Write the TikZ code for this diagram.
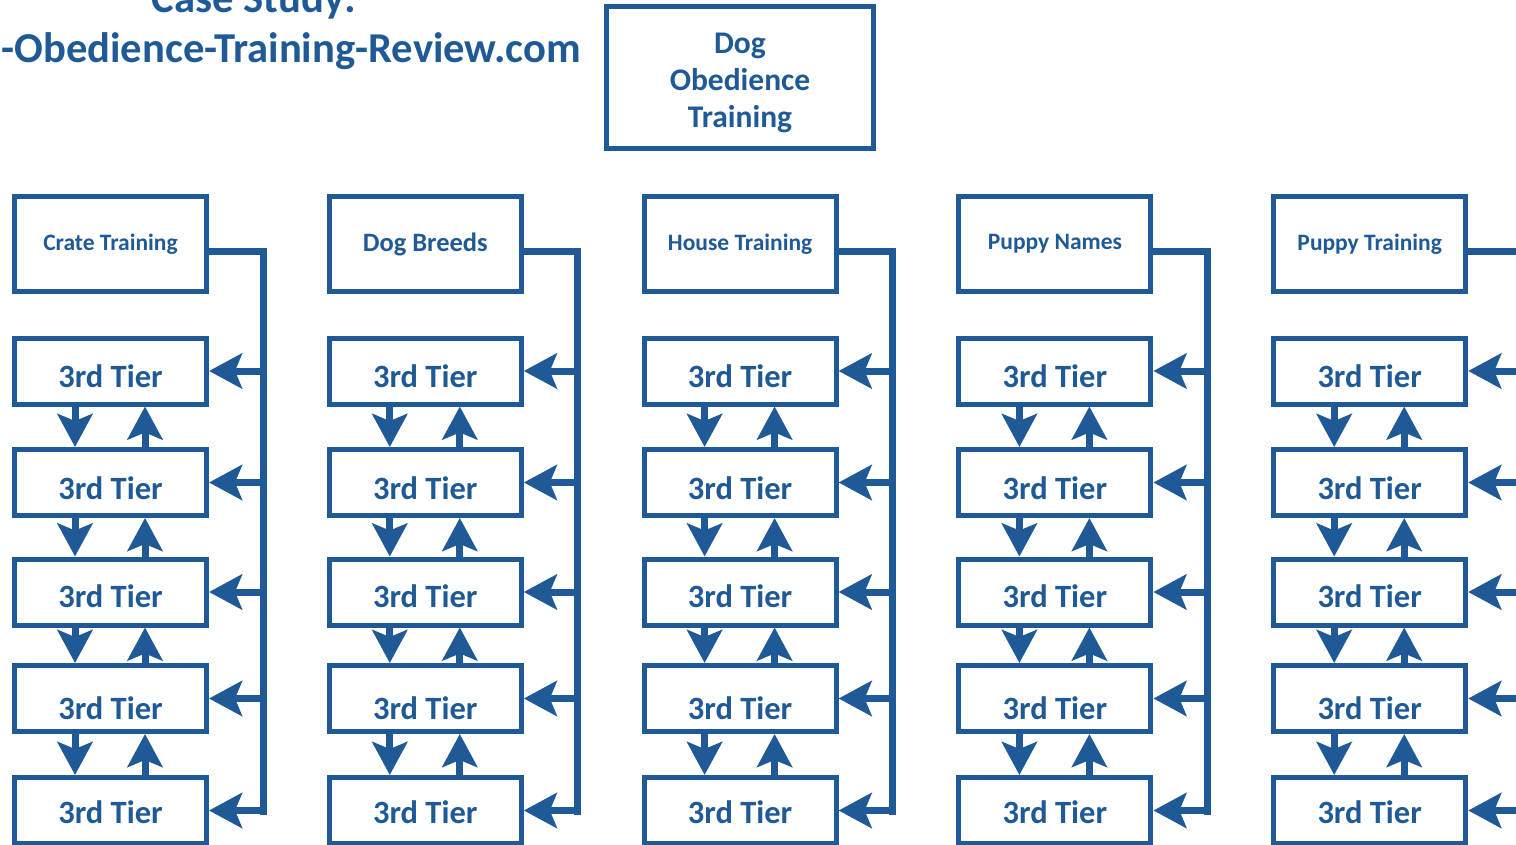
\documentclass[tikz,border=0pt]{standalone}
\usepackage{fontspec}
\setmainfont{Carlito}
\usetikzlibrary{arrows.meta,calc}
\definecolor{navy}{RGB}{31,90,150}
\begin{document}
\begin{tikzpicture}[x=1pt,y=-1pt,
 box/.style={draw=navy,line width=5pt,outer sep=2.5pt,inner sep=0pt,align=center,text=navy,fill=white},
 hdr/.style={box,minimum width=192pt,minimum height=95pt},
 tier/.style={box,minimum width=192pt,minimum height=66pt,text height=#1,text depth=0pt,font=\bfseries\fontsize{32.5}{37}\selectfont},
 conn/.style={draw=navy,line width=7pt},
 arr/.style={conn,-{Stealth[length=33pt,width=35pt,inset=7pt]}},
 ttl/.style={text=navy,inner sep=0pt,font=\bfseries\fontsize{42.6}{50}\selectfont}
]
\clip (0,0) rectangle (1516,845);
\fill[white] (0,0) rectangle (1516,845);
\node[ttl,anchor=base] (t1) at (254,13) {Case Study:};
\node[ttl,anchor=base east] (t2) at (581,63) {-Obedience-Training-Review.com};
\node[box,minimum width=267pt,minimum height=142pt,font=\bfseries\fontsize{31.5}{37}\selectfont] (top) at (740,77.5) {\rule{0pt}{31pt}Dog\\Obedience\\Training};
\foreach \i/\name/\fs in {0/Crate Training/23.5,1/Dog Breeds/26.5,2/House Training/23.5,3/Puppy Names/23.5,4/Puppy Training/23.5} {
  \pgfmathsetmacro\cx{12+314.8*\i+98.5}
  \node[hdr,font=\bfseries\fontsize{\fs}{28}\selectfont] (h\i) at (\cx,244) {\name};
  \coordinate (bb\i) at (\cx+152.5,815);
  \draw[conn] ($(h\i.east)+(0,8)$) -| (bb\i);
  \foreach \j/\ry/\th in {1/371/32.5pt,2/482.5/33.5pt,3/592/30.5pt,4/698.5/41pt,5/810.5/25.5pt} {
    \node[tier=\th] (r\i-\j) at (\cx,\ry) {3rd Tier};
    \draw[arr] (r\i-\j.east -| bb\i) -- (r\i-\j.east);
  }
  \foreach \j/\k in {1/2,2/3,3/4,4/5} {
    \draw[arr] ($(r\i-\j.south)+(-35.5,0)$) -- ($(r\i-\k.north)+(-35.5,0)$);
    \draw[arr] ($(r\i-\k.north)+(34.5,0)$) -- ($(r\i-\j.south)+(34.5,0)$);
  }
}
\end{tikzpicture}
\end{document}
